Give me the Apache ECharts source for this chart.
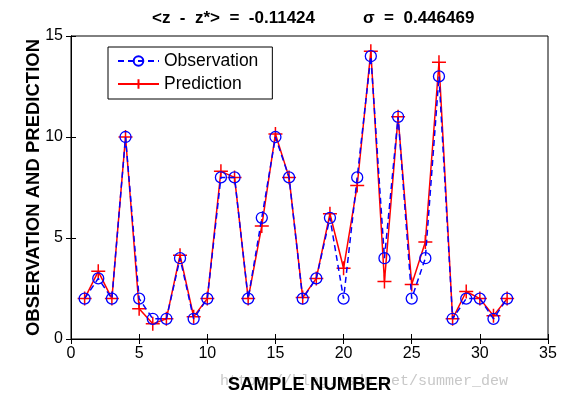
<!DOCTYPE html>
<html>
<head>
<meta charset="utf-8">
<script src="https://cdn.jsdelivr.net/npm/echarts@6/dist/echarts.min.js"></script>
<style>
html, body { margin: 0; padding: 0; background: #fff; }
#chart { width: 572px; height: 399px; }
</style>
</head>
<body>
<div id="chart"></div>
<script>
const samples = [1, 2, 3, 4, 5, 6, 7, 8, 9, 10, 11, 12, 13, 14, 15, 16,
                 17, 18, 19, 20, 21, 22, 23, 24, 25, 26, 27, 28, 29, 30, 31, 32];
const observation = [2, 3, 2, 10, 2, 1, 1, 4, 1, 2, 8, 8, 2, 6, 10, 8,
                     2, 3, 6, 2, 8, 14, 4, 11, 2, 4, 13, 1, 2, 2, 1, 2];
const prediction = [2, 3.35, 2, 10, 1.5, 0.75, 1, 4.15, 1.1, 2, 8.3, 8, 2, 5.6, 10.15, 8,
                    2.05, 3, 6.2, 3.5, 7.6, 14.25, 2.85, 11, 2.7, 4.8, 13.7, 1, 2.35, 2, 1.15, 2];
const xTicks = [0, 35, 5];
const yTicks = [0, 15, 5];

const chart = echarts.init(document.getElementById('chart'));

const plus = 'path://M0,5 L10,5 M5,0 L5,10';

const option = {
    animation: false,
    backgroundColor: '#fff',
    textStyle: { fontFamily: 'Arial, Liberation Sans, sans-serif' },
    title: [
        {
            text: '<z  -  z*>  =  -0.11424',
            left: 147, top: 5,
            textStyle: { fontSize: 17, fontWeight: 'bold', color: '#000' }
        },
        {
            text: 'σ  =  0.446469',
            left: 358, top: 5,
            textStyle: { fontSize: 17, fontWeight: 'bold', color: '#000' }
        }
    ],
    legend: {
        data: ['Observation', 'Prediction'],
        orient: 'vertical',
        left: 108, top: 47,
        padding: [5, 14, 6, 9],
        itemGap: 5,
        itemWidth: 41,
        itemHeight: 12,
        backgroundColor: '#fff',
        borderColor: '#000',
        borderWidth: 1,
        borderRadius: 0,
        textStyle: { fontSize: 17.5, color: '#000' }
    },
    grid: {
        left: 71, right: 24, top: 36, bottom: 58,
        show: true,
        borderColor: '#000',
        borderWidth: 1
    },
    xAxis: [
        {
            type: 'value',
            min: xTicks[0], max: xTicks[1], interval: xTicks[2],
            name: 'SAMPLE NUMBER',
            nameLocation: 'middle',
            nameMoveOverlap: false,
            nameGap: 36,
            nameTextStyle: { fontSize: 18.5, fontWeight: 'bold', color: '#000' },
            axisLine: { lineStyle: { color: '#000' } },
            axisTick: { inside: true, length: 5, lineStyle: { color: '#000' } },
            axisLabel: { fontSize: 16, color: '#000', margin: 7 },
            splitLine: { show: false }
        },
        {
            type: 'value', position: 'top',
            min: xTicks[0], max: xTicks[1], interval: xTicks[2],
            axisLine: { lineStyle: { color: '#000' } },
            axisTick: { inside: true, length: 5, lineStyle: { color: '#000' } },
            axisLabel: { show: false },
            splitLine: { show: false }
        }
    ],
    yAxis: [
        {
            type: 'value',
            min: yTicks[0], max: yTicks[1], interval: yTicks[2],
            name: 'OBSERVATION AND PREDICTION',
            nameLocation: 'middle',
            nameMoveOverlap: false,
            nameGap: 28,
            nameTextStyle: { fontSize: 18.5, fontWeight: 'bold', color: '#000' },
            axisLine: { lineStyle: { color: '#000' } },
            axisTick: { inside: true, length: 5, lineStyle: { color: '#000' } },
            axisLabel: { fontSize: 16, color: '#000', margin: 8 },
            splitLine: { show: false }
        },
        {
            type: 'value', position: 'right',
            min: yTicks[0], max: yTicks[1], interval: yTicks[2],
            axisLine: { lineStyle: { color: '#000' } },
            axisTick: { inside: true, length: 5, lineStyle: { color: '#000' } },
            axisLabel: { show: false },
            splitLine: { show: false }
        }
    ],
    graphic: [
        {
            type: 'text',
            left: 220, top: 374,
            z: -1,
            style: {
                text: 'https://blog.csdn.net/summer_dew',
                font: '15px "Liberation Mono", monospace',
                fill: '#c8c8c8'
            }
        }
    ],
    series: [
        {
            name: 'Observation',
            type: 'line',
            z: 3,
            data: samples.map((s, i) => [s, observation[i]]),
            symbol: 'circle',
            symbolSize: 11,
            lineStyle: { color: '#0000ff', width: 1.5, type: [6, 4] },
            itemStyle: { color: 'rgba(0,0,0,0)', borderColor: '#0000ff', borderWidth: 1.3 }
        },
        {
            name: 'Prediction',
            type: 'line',
            z: 2,
            data: samples.map((s, i) => [s, prediction[i]]),
            symbol: plus,
            symbolSize: 14,
            lineStyle: { color: '#ff0000', width: 1.5 },
            itemStyle: { color: '#ff0000', borderColor: '#ff0000', borderWidth: 1.5 }
        }
    ]
};

chart.setOption(option);
window.addEventListener('resize', function () {
    chart.resize();
});
</script>
</body>
</html>
